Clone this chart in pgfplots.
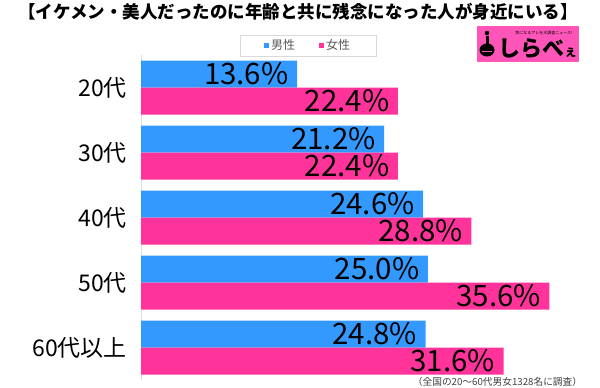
\documentclass[border=0pt]{standalone}
\usepackage{pgfplots}
\pgfplotsset{compat=1.18}
\usepackage{fontspec}
\setmainfont{Noto Sans CJK JP}
\definecolor{mblue}{RGB}{51,153,255}
\definecolor{mpink}{RGB}{255,51,153}
\definecolor{logopink}{RGB}{255,85,185}
\begin{document}
\begin{tikzpicture}[x=1bp,y=1bp]
\path[use as bounding box] (0,0) rectangle (600,387);
\node[font=\bfseries\fontsize{17.5bp}{18bp}\selectfont] at (298,375) {【イケメン・美人だったのに年齢と共に残念になった人が身近にいる】};
\begin{axis}[
 at={(123,10.5)}, anchor=south west, scale only axis,
 width=447.3bp, height=325bp,
 xmin=0, xmax=39, ymin=-0.5, ymax=4.5,
 axis x line=none, axis y line*=left,
 y axis line style={draw=black!12, line width=1bp, -},
 ytick={0,1,2,3,4}, yticklabels={60代以上,50代,40代,30代,20代},
 major tick length=0pt,
 yticklabel style={font=\fontsize{23bp}{23bp}\selectfont, inner sep=0pt, xshift=-14bp},
 xbar, bar width=27bp, bar shift=0pt,
 nodes near coords={\pgfmathprintnumber[fixed,fixed zerofill,precision=1,assume math mode=true]{\pgfplotspointmeta}\%},
 every node near coord/.append style={anchor=east, xshift=-5bp, font=\fontsize{29.5bp}{29.5bp}\selectfont, text=black},
 legend columns=2,
 legend style={at={(0.3733,1.03)}, anchor=center, draw=black!15, font=\fontsize{12bp}{12bp}\selectfont, text=black!65, inner ysep=2.5bp, inner xsep=24bp, /tikz/every even column/.append style={column sep=22bp}},
]
\addplot[fill=mblue,draw=none,legend image code/.code={\fill[mblue] (0bp,-2.6bp) rectangle (5.2bp,2.6bp);}] coordinates {(13.6,4.2077) (21.2,3.2077) (24.6,2.2077) (25.0,1.2077) (24.8,0.2077)};
\addplot[fill=mpink,draw=none,legend image code/.code={\fill[mpink] (0bp,-2.6bp) rectangle (5.2bp,2.6bp);}] coordinates {(22.4,3.7923) (22.4,2.7923) (28.8,1.7923) (35.6,0.7923) (31.6,-0.2077)};
\legend{男性,女性}
\end{axis}
\fill[logopink] (477,325) rectangle (579,361);
\node[font=\fontsize{4bp}{4bp}\selectfont, anchor=east] at (576,354) {気になるアレを大調査ニュース!};
\node[font=\bfseries\fontsize{22bp}{22bp}\selectfont, anchor=west, inner sep=0pt] at (498,338) {しらべ{\fontsize{13bp}{13bp}\selectfont ぇ}};
\fill (487,354) circle (2.3);
\fill (487,337) ellipse (7.5 and 6.5);
\fill (485.5,351) rectangle (488.5,340);
\draw[logopink, line width=0.8bp] (482,336) -- (492,336);
\node[font=\fontsize{9.7bp}{10bp}\selectfont, text=black!75] at (497.5,4.8) {（全国の20～60代男女1328名に調査）};
\end{tikzpicture}
\end{document}
